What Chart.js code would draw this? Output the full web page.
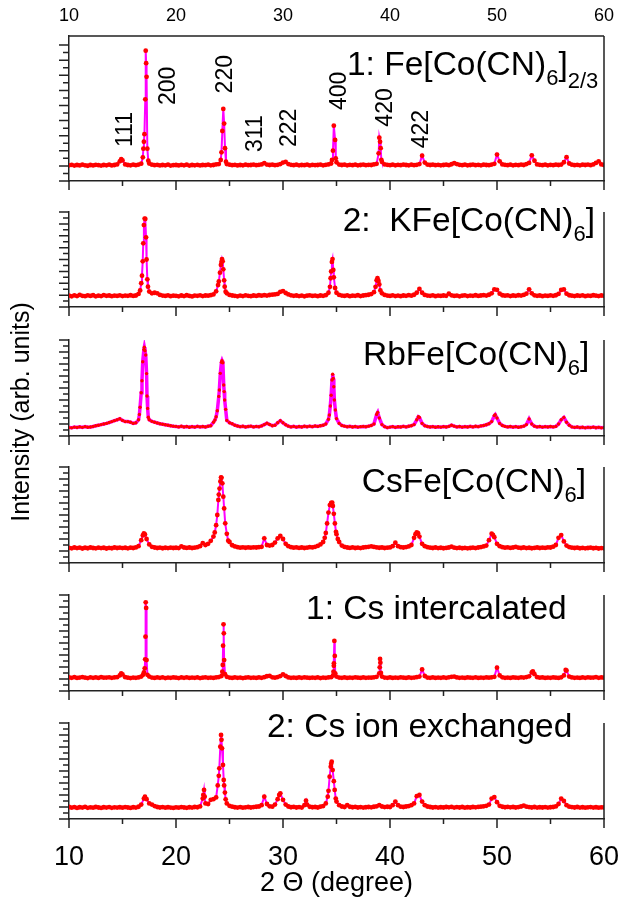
<!DOCTYPE html>
<html>
<head>
<meta charset="utf-8">
<script src="https://cdn.jsdelivr.net/npm/chart.js@4.4.1/dist/chart.umd.min.js"></script>
<style>
  body { margin: 0; background: #fff; }
  #wrap { position: relative; width: 624px; height: 903px; }
  #wrap canvas { position: absolute; left: 0; top: 0; }
</style>
</head>
<body>
<div id="wrap">
  <canvas id="p1" width="624" height="903"></canvas>
  <canvas id="p2" width="624" height="903"></canvas>
  <canvas id="p3" width="624" height="903"></canvas>
  <canvas id="p4" width="624" height="903"></canvas>
  <canvas id="p5" width="624" height="903"></canvas>
  <canvas id="p6" width="624" height="903"></canvas>
</div>
<script>
// 2 theta scan positions (degree) shared by all six patterns
const twoTheta = [
  10,10.25,10.5,10.75,11,11.25,11.5,11.75,12,12.25,12.5,12.75,13,13.25,13.5,13.75,14,14.25,14.5,14.75,
  15,15.25,15.5,15.75,16,16.25,16.5,16.75,17,17.25,17.5,17.75,18,18.25,18.5,18.75,19,19.25,19.5,19.75,
  20,20.25,20.5,20.75,21,21.25,21.5,21.75,22,22.25,22.5,22.75,23,23.25,23.5,23.75,24,24.25,24.5,24.75,
  25,25.25,25.5,25.75,26,26.25,26.5,26.75,27,27.25,27.5,27.75,28,28.25,28.5,28.75,29,29.25,29.5,29.75,
  30,30.25,30.5,30.75,31,31.25,31.5,31.75,32,32.25,32.5,32.75,33,33.25,33.5,33.75,34,34.25,34.5,34.75,
  35,35.25,35.5,35.75,36,36.25,36.5,36.75,37,37.25,37.5,37.75,38,38.25,38.5,38.75,39,39.25,39.5,39.75,
  40,40.25,40.5,40.75,41,41.25,41.5,41.75,42,42.25,42.5,42.75,43,43.25,43.5,43.75,44,44.25,44.5,44.75,
  45,45.25,45.5,45.75,46,46.25,46.5,46.75,47,47.25,47.5,47.75,48,48.25,48.5,48.75,49,49.25,49.5,49.75,
  50,50.25,50.5,50.75,51,51.25,51.5,51.75,52,52.25,52.5,52.75,53,53.25,53.5,53.75,54,54.25,54.5,54.75,
  55,55.25,55.5,55.75,56,56.25,56.5,56.75,57,57.25,57.5,57.75,58,58.25,58.5,58.75,59,59.25,59.5,59.75,
  60
];

// intensities (arb. units) on the scan positions
const fe23 = [
  10.4,10.7,10.2,10.6,10.3,10.8,10.4,10.1,10.6,10.3,10.7,10.5,10.2,10.6,10.4,10.8,10.3,10.6,11.0,13.0,
  13.6,11.0,10.6,10.4,10.8,10.5,10.9,11.5,26.0,69.0,11.6,10.8,10.5,10.7,10.3,10.6,10.4,10.8,10.2,10.5,
  10.6,10.3,10.7,10.4,10.8,10.2,10.6,10.4,10.7,10.3,10.6,10.5,10.8,10.4,10.6,11.0,11.2,19.0,38.0,11.2,
  10.8,10.5,10.7,10.3,10.6,10.4,10.8,10.5,10.6,10.9,10.5,10.7,11.0,11.8,10.9,10.6,10.8,10.5,10.7,11.2,
  12.2,12.6,11.2,10.7,10.5,10.8,10.4,10.6,10.5,10.8,10.3,10.7,10.5,10.6,10.9,10.4,10.7,11.0,11.6,36.6,
  12.4,10.9,10.6,10.8,10.4,10.7,10.5,10.8,10.4,10.6,10.9,10.5,10.7,10.6,11.0,11.4,28.7,12.6,11.0,10.7,
  10.5,10.8,10.4,10.7,10.5,10.9,10.6,10.4,10.8,10.5,10.7,11.2,16.8,12.2,10.9,10.6,10.8,10.5,10.7,10.4,
  10.6,10.8,10.5,11.1,11.8,11.2,10.7,10.5,10.8,10.4,10.6,10.9,10.5,10.7,10.4,10.8,10.6,10.5,10.9,11.4,
  17.5,13.0,11.0,10.7,10.5,10.8,10.4,10.7,10.5,10.9,10.6,11.2,12.0,17.0,13.4,11.0,10.7,10.5,10.8,10.4,
  10.7,10.5,10.8,10.6,10.9,12.4,15.8,11.6,10.8,10.5,10.7,10.4,10.8,10.6,10.9,10.5,11.0,12.0,13.0,11.0,
  10.6
];
const kfe = [
  9.6,9.0,9.8,9.2,10.2,9.4,9.1,9.8,9.3,9.9,9.0,9.5,9.2,10.0,9.4,9.7,9.1,9.6,9.3,9.8,
  9.2,9.6,9.4,9.9,9.3,9.7,11.0,20.0,69.0,40.0,13.0,11.5,12.0,11.5,10.2,9.6,9.3,9.8,9.1,9.5,
  9.4,9.0,9.7,9.2,9.9,9.3,8.9,9.6,9.4,9.8,9.2,9.7,9.5,10.0,10.6,13.2,21.5,38.0,22.5,11.5,
  10.2,9.7,9.4,9.0,9.6,9.2,9.8,9.4,9.1,9.7,9.3,9.9,9.5,10.0,9.6,10.1,10.4,10.6,11.0,12.8,
  13.4,11.8,10.6,9.8,9.4,9.7,9.2,9.6,9.0,9.5,9.8,9.3,9.6,9.1,9.7,9.4,10.0,12.0,30.0,25.0,
  12.0,10.2,9.6,9.3,9.8,9.1,9.5,9.4,9.9,9.2,9.7,10.0,10.3,10.9,12.5,22.5,19.0,11.5,10.2,9.6,
  9.3,9.8,9.2,9.6,9.1,9.7,9.4,10.0,9.5,10.3,12.0,15.2,12.0,10.2,9.6,9.4,9.8,9.1,9.6,9.3,
  9.7,9.4,11.2,9.8,9.3,9.6,9.0,9.5,9.8,9.2,9.6,9.4,9.9,9.3,9.7,10.0,9.6,10.3,11.5,14.8,
  14.5,11.2,9.9,9.5,9.8,9.2,9.7,9.4,9.9,9.6,10.2,11.2,14.9,11.5,9.8,9.4,9.7,9.1,9.6,9.3,
  9.8,9.4,9.9,11.0,14.4,14.8,11.2,9.9,9.5,9.2,9.7,9.4,9.8,9.1,9.6,9.3,9.9,9.5,9.2,9.7,
  9.4
];
const rbfe = [
  7.0,6.8,7.4,7.1,7.6,7.2,7.8,7.3,7.5,7.9,8.5,8.9,9.5,10.0,10.5,11.2,12.0,12.8,13.5,14.4,
  13.0,12.0,12.0,11.5,10.5,11.0,13.5,36.0,72.0,52.0,13.5,12.2,11.5,10.8,10.2,9.8,9.4,9.0,8.5,8.2,
  8.0,7.6,8.1,7.5,7.9,7.3,7.8,7.4,8.0,7.6,7.9,7.5,8.1,8.6,11.5,16.0,33.0,61.5,37.0,13.0,
  11.0,10.2,9.0,8.3,7.8,8.1,7.5,7.9,8.2,7.6,8.0,7.7,8.4,9.5,10.6,9.6,8.6,9.0,11.0,12.8,
  11.0,9.4,8.2,7.6,8.0,7.4,7.9,7.5,8.1,7.7,8.2,7.8,8.4,8.0,8.6,9.0,10.0,14.0,34.0,41.0,
  14.5,10.5,8.8,8.2,7.7,8.0,7.5,7.9,7.4,7.8,8.0,7.7,8.2,8.8,10.0,18.0,15.0,9.5,7.8,7.0,
  7.4,7.8,7.2,7.7,7.5,8.0,7.6,8.1,8.6,9.5,13.5,15.5,10.5,8.6,7.9,7.5,7.8,7.3,7.7,7.4,
  7.8,7.5,8.0,9.0,8.2,7.6,7.9,7.4,7.8,7.5,8.0,7.6,8.1,7.8,8.4,8.8,9.4,10.2,12.0,17.0,
  15.0,10.5,8.8,8.0,7.6,7.9,7.4,7.8,7.3,7.7,8.2,9.5,14.2,10.0,8.2,7.6,7.9,7.4,7.8,7.5,
  7.9,7.6,8.0,10.0,13.5,15.5,11.5,9.0,7.6,7.2,7.5,7.0,7.3,6.8,7.2,7.0,7.4,6.9,7.2,6.8,
  7.0
];
const csfe = [
  12.6,12.2,12.9,12.4,12.8,12.1,12.7,12.3,12.9,12.5,12.2,12.8,12.4,12.7,12.1,12.6,12.3,12.9,12.5,12.8,
  12.4,12.7,12.2,12.8,12.5,13.0,14.0,19.0,24.7,20.0,15.5,13.5,12.9,12.5,12.8,12.3,12.7,12.4,12.8,12.5,
  12.7,12.4,13.8,12.9,12.6,12.9,12.5,12.8,13.2,14.0,16.5,15.0,16.0,18.5,22.0,31.5,57.0,71.0,45.5,24.3,
  17.5,14.8,13.8,13.2,12.8,13.1,12.7,13.0,12.8,13.1,12.9,13.2,13.5,20.6,15.0,14.5,15.0,17.0,20.5,22.5,
  20.0,16.0,14.0,13.2,12.8,13.1,12.6,12.9,12.5,12.8,13.2,13.0,13.5,14.2,15.5,17.5,25.0,42.0,50.0,41.0,
  24.0,17.5,14.5,13.4,12.9,12.6,13.0,12.5,12.8,12.4,12.9,13.2,13.5,13.9,13.4,13.0,12.7,12.9,12.5,12.8,
  13.0,14.0,16.9,14.0,13.2,12.9,13.3,13.8,15.0,21.0,25.6,22.0,16.0,14.0,13.2,12.8,12.5,12.9,12.4,12.7,
  12.3,12.6,12.9,13.6,12.8,12.4,12.7,12.3,12.6,12.2,12.5,12.8,12.4,12.9,13.3,13.8,14.5,19.0,24.4,21.5,
  16.0,14.0,13.2,12.8,13.1,12.6,12.9,13.4,12.8,12.5,12.9,12.4,12.7,12.3,12.6,12.9,12.5,12.8,12.6,13.0,
  12.9,13.6,15.0,21.0,23.3,18.0,14.5,13.3,12.8,12.5,12.8,12.3,12.6,12.2,12.5,12.8,12.3,12.6,12.1,12.4,
  12.2
];
const csInt = [
  11.3,11.0,11.5,10.9,11.2,11.6,11.1,10.8,11.4,11.0,11.3,10.9,11.5,11.1,11.2,11.4,11.0,11.3,11.5,13.0,
  13.8,11.5,11.1,10.8,11.2,11.0,11.3,12.0,15.5,25.8,12.0,11.2,10.9,11.3,11.0,11.4,10.8,11.2,11.0,11.3,
  11.1,10.8,11.3,11.0,11.4,10.9,11.2,11.0,11.3,10.8,11.1,11.4,11.0,11.2,10.9,11.3,11.6,12.5,25.8,11.8,
  11.2,10.9,11.3,11.0,11.2,10.8,11.1,11.4,11.0,11.2,10.9,11.3,11.0,11.5,12.3,12.6,11.4,11.1,11.6,12.4,
  13.9,12.5,11.3,11.0,11.2,10.9,11.3,11.0,11.4,11.1,10.9,11.2,11.0,11.3,10.8,11.2,11.0,11.3,11.5,21.0,
  12.0,11.2,11.0,11.3,10.9,11.2,11.0,11.4,11.1,10.9,11.3,11.0,11.2,11.1,11.4,11.8,14.7,12.0,11.2,11.0,
  11.3,10.9,11.2,11.0,11.4,11.1,10.9,11.3,11.0,11.2,11.5,12.0,18.0,12.5,11.2,11.0,11.3,10.9,11.2,11.0,
  11.3,11.0,11.4,11.8,12.0,11.3,11.0,11.2,10.9,11.3,11.1,11.0,11.4,10.9,11.2,11.0,11.3,11.1,11.4,11.8,
  19.4,13.0,11.4,11.0,11.2,10.9,11.3,11.1,11.0,11.4,11.2,11.6,12.2,15.5,14.0,11.5,11.1,11.3,10.9,11.2,
  11.0,11.3,11.1,10.9,11.4,13.0,17.0,12.0,11.3,11.0,11.2,10.9,11.3,11.0,11.4,11.1,11.2,11.5,11.0,11.3,
  11.1
];
const csIon = [
  10.0,9.4,9.9,9.2,9.8,9.5,10.1,9.3,9.7,9.4,10.0,9.6,9.2,9.8,9.5,9.9,9.3,9.7,9.5,9.8,
  9.4,9.9,9.6,9.2,9.8,9.5,10.2,12.0,17.0,16.5,13.0,12.0,10.8,10.0,9.6,9.9,9.4,9.8,9.5,9.2,
  9.7,9.4,9.9,9.6,9.3,9.8,9.5,10.0,9.8,10.5,17.0,13.0,12.5,16.0,16.5,18.0,36.0,66.0,28.0,13.0,
  11.0,10.3,9.8,9.5,9.9,9.4,9.7,10.0,9.6,9.9,10.2,10.4,11.5,18.6,12.5,10.6,10.3,12.0,16.5,21.4,
  16.0,12.0,10.4,9.8,10.1,9.6,9.9,9.5,11.5,12.0,10.2,9.8,10.0,9.6,10.3,10.8,13.0,23.5,46.0,31.5,
  14.5,11.5,10.4,10.0,11.5,10.2,9.8,10.1,9.6,9.9,9.5,9.8,10.0,9.7,10.2,10.6,11.5,10.4,9.9,10.2,
  10.0,11.5,14.5,11.5,10.3,10.0,10.4,10.8,11.5,13.0,19.0,20.0,14.5,11.5,10.4,10.0,9.6,9.9,9.5,9.8,
  9.6,10.0,9.7,10.1,9.5,9.9,9.6,10.0,9.4,9.8,9.6,10.0,9.7,10.1,10.3,10.6,11.0,12.0,17.0,18.3,
  14.0,11.0,10.2,9.8,10.1,9.7,10.0,9.6,9.9,10.4,11.2,10.3,9.9,9.6,10.0,9.5,9.8,9.6,9.9,9.5,
  9.8,10.0,10.5,12.5,17.0,15.0,11.5,10.3,9.9,9.6,10.0,9.5,9.8,9.4,9.7,9.9,9.5,9.8,9.4,9.7,
  9.6
];

// extra readings on the sharp peak flanks
const fe23X = [14.88,16.9,16.95,17.05,17.13,17.17,17.21,17.32,17.41,24.18,24.33,24.42,24.58,24.67,34.58,34.67,34.87,34.93,38.94,39.07,39.13,39.19];
const fe23Y = [14.4,15.7,21.4,31,54.1,86.3,78,21.4,13.4,13.9,33.1,47.7,21.7,12.8,13.9,20.1,27.2,15,18.3,26,21.7,14];
const kfeX = [16.65,16.82,16.89,16.94,17.07,17.13,17.2,17.32,17.38,23.93,24.11,24.2,24.3,24.36,24.42,24.55,24.64,34.39,34.45,34.57,34.63,34.7,34.87,38.65,38.83,38.92,39.1];
const kfeY = [14,26.4,38.5,53.6,74.5,74.1,58.7,23.3,17.1,18.5,28.9,35.4,40.4,38.5,31.7,17.1,12.9,17,24.2,38,40.4,31.2,16,17,24.2,22,14];
const rbfeX = [16.58,16.64,16.82,16.89,17.04,17.1,17.17,17.29,17.35,17.41,23.64,23.86,24.05,24.14,24.3,24.38,24.46,24.55,24.64,34.33,34.42,34.58,34.64,34.7,34.8,34.89,38.85,42.65,49.83];
const rbfeY = [18,23.9,46.1,61.9,73.9,71,67.5,33.3,23,15.6,13.3,21.1,38.3,52.2,62.8,61,42.5,30,22.2,17.5,25,46.7,51.4,48,30,21.7,19.7,16.1,17.8];
const csfeX = [16.9,17.1,23.62,23.86,23.96,24.07,24.15,24.21,24.33,24.42,24.6,24.88,33.9,34.12,34.38,34.6,34.66,34.85,34.95,35.12,42.38,42.62,49.62];
const csfeY = [23,23.8,25.5,40,52.5,62,68,71.4,66.4,55.3,33.1,18.6,21,33,48.3,50.3,47.5,33,26,20,24,24.8,23.5];
const csIntX = [14.88,16.92,17.08,17.12,17.15,17.17,17.21,17.33,24.33,24.37,24.4,24.44,24.47,24.58,34.68,34.72,34.76,34.8,34.84,34.88,39.04,39.07,39.1,39.15,53.35,56.42];
const csIntY = [14.7,13.5,18.9,26.4,45.3,73.9,69.2,13.5,16.1,21.7,37.8,55.6,48.1,14,13,16.1,23.1,41.7,29.2,14.7,19.7,26.7,23.6,15,16.4,17.5];
const csIonX = [17.1,22.55,22.62,22.68,23.9,24.05,24.14,24.21,24.3,24.39,24.46,24.57,24.64,29.65,32.15,34.18,34.36,34.46,34.55,34.64,34.83,34.93];
const csIonY = [18.6,20,24.2,18.6,28,42.2,60.3,70,58.9,45,32.5,22,16.4,20,15.3,18.6,35.3,43.6,47.8,40.8,24.2,17];

// Miller indices written over the first pattern
const hklText = ['111','200','220','311','222','400','420','422'];

const FONT = "'Liberation Sans', Arial, sans-serif";
const AXIS = '#222';

const panels = [
  { id: 'p1', top: 36, bottom: 181, ymax: 96, tickTop: 90, y: fe23, px: fe23X, py: fe23Y,
    label: [['1: Fe[Co(CN)', 0], ['6', 10], [']', 0], ['2/3', 13]], at: [35.98, 70.2] },
  { id: 'p2', top: 212, bottom: 307, ymax: 80, tickTop: 80, y: kfe, px: kfeX, py: kfeY,
    label: [['2:  KFe[Co(CN)', 0], ['6', 10], [']', 0]], at: [35.58, 64.3] },
  { id: 'p3', top: 340, bottom: 436, ymax: 80, tickTop: 80, y: rbfe, px: rbfeX, py: rbfeY,
    label: [['RbFe[Co(CN)', 0], ['6', 10], [']', 0]], at: [37.48, 59.2], line: 3.5, dot: 1.7 },
  { id: 'p4', top: 467, bottom: 563, ymax: 80, tickTop: 80, y: csfe, px: csfeX, py: csfeY,
    label: [['CsFe[Co(CN)', 0], ['6', 10], [']', 0]], at: [37.36, 59.4] },
  { id: 'p5', top: 595, bottom: 691, ymax: 80, tickTop: 80, y: csInt, px: csIntX, py: csIntY,
    label: [['1: Cs intercalated', 0]], at: [32.15, 60] },
  { id: 'p6', top: 723, bottom: 819, ymax: 80, tickTop: 80, y: csIon, px: csIonX, py: csIonY,
    label: [['2: Cs ion exchanged', 0]], at: [28.5, 68.6] }
];

// where the index labels sit (2theta, intensity) in panel 1
const hklAt = [[15.89, 22.5], [19.91, 50.3], [25.26, 58], [28.04, 19.2], [31.2, 22.5], [35.86, 47], [40.16, 36], [43.58, 21.7]];

function points(ys, xs2, ys2) {
  const pts = twoTheta.map((x, i) => ({ x: x, y: ys[i] }));
  xs2.forEach((x, i) => pts.push({ x: x, y: ys2[i] }));
  return pts.sort((a, b) => a.x - b.x);
}

function deco(p, first) {
  return {
    id: 'deco',
    afterDraw(chart) {
      const ctx = chart.ctx;
      const a = chart.chartArea;
      const xs = chart.scales.x, ys = chart.scales.y;
      ctx.save();
      ctx.strokeStyle = AXIS;
      ctx.lineWidth = 1.5;
      ctx.beginPath();
      ctx.moveTo(a.right, a.top); ctx.lineTo(a.right, a.bottom);
      if (first) { ctx.moveTo(a.left, a.top); ctx.lineTo(a.right, a.top); }
      xs.ticks.forEach(t => {
        const px = xs.getPixelForValue(t.value);
        const len = t.value % 10 === 0 ? 9 : 5;
        ctx.moveTo(px, a.bottom); ctx.lineTo(px, a.bottom + len);
      });
      ys.ticks.forEach(t => {
        if (t.value % 5 !== 0 || t.value > p.tickTop) return;
        const py = ys.getPixelForValue(t.value);
        const len = t.value % 10 === 0 ? 10 : 6;
        ctx.moveTo(a.left - len, py); ctx.lineTo(a.left, py);
      });
      ctx.stroke();

      ctx.fillStyle = '#000';
      ctx.textAlign = 'left';
      ctx.textBaseline = 'alphabetic';
      let lx = xs.getPixelForValue(p.at[0]);
      const ly = ys.getPixelForValue(p.at[1]);
      p.label.forEach(part => {
        ctx.font = (part[1] ? 22 : 33.5) + 'px ' + FONT;
        ctx.fillText(part[0], lx, ly + part[1]);
        lx += ctx.measureText(part[0]).width;
      });

      if (first) {
        ctx.font = '23px ' + FONT;
        hklText.forEach((s, i) => {
          ctx.save();
          ctx.translate(xs.getPixelForValue(hklAt[i][0]), ys.getPixelForValue(hklAt[i][1]));
          ctx.rotate(-Math.PI / 2);
          ctx.fillText(s, 0, 0);
          ctx.restore();
        });
        ctx.save();
        ctx.font = '25px ' + FONT;
        ctx.textAlign = 'center';
        ctx.textBaseline = 'middle';
        ctx.translate(22, 412);
        ctx.rotate(-Math.PI / 2);
        ctx.fillText('Intensity (arb. units)', 0, 0);
        ctx.restore();
      }
      ctx.restore();
    }
  };
}

panels.forEach((p, i) => {
  const first = i === 0;
  const last = i === panels.length - 1;
  const scales = {
    x: {
      type: 'linear', min: 10, max: 60,
      grid: { display: false, drawTicks: false },
      border: { display: true, color: AXIS, width: 1.5 },
      ticks: {
        stepSize: 5, display: last, autoSkip: false, maxRotation: 0, padding: 22,
        color: '#000', font: { family: FONT, size: 27 },
        callback: v => (v % 10 === 0 ? v : '')
      },
      title: {
        display: last, text: '2 Θ (degree)', color: '#000',
        font: { family: FONT, size: 27 }, padding: { top: 0, bottom: 3 }
      },
      afterFit: s => {
        s.height = last ? 903 - p.bottom : 0;
        s.paddingLeft = 0; s.paddingRight = 0;
      }
    },
    y: {
      min: 0, max: p.ymax,
      grid: { display: false, drawTicks: false },
      border: { display: true, color: AXIS, width: 1.5 },
      ticks: { stepSize: 5, display: false },
      afterFit: s => { s.width = 0; s.paddingTop = 0; s.paddingBottom = 0; }
    }
  };
  if (first) {
    scales.x2 = {
      type: 'linear', position: 'top', min: 10, max: 60,
      grid: { display: false, drawTicks: false },
      border: { display: false },
      ticks: { stepSize: 10, padding: 9, color: '#000', font: { family: FONT, size: 18 }, maxRotation: 0 },
      afterFit: s => { s.height = p.top; s.paddingLeft = 0; s.paddingRight = 0; }
    };
  }
  new Chart(document.getElementById(p.id), {
    type: 'line',
    data: {
      datasets: [{
        data: points(p.y, p.px, p.py),
        borderColor: '#ff00ff',
        borderWidth: p.line || 2,
        pointRadius: p.dot || 2.4,
        pointBackgroundColor: '#ff0000',
        pointBorderWidth: 0,
        tension: 0
      }]
    },
    options: {
      responsive: false,
      animation: false,
      events: [],
      layout: { padding: { left: 69, right: 20, top: first ? 0 : p.top, bottom: last ? 0 : 903 - p.bottom } },
      plugins: { legend: { display: false }, tooltip: { enabled: false } },
      scales: scales
    },
    plugins: [deco(p, first)]
  });
});
</script>
</body>
</html>
